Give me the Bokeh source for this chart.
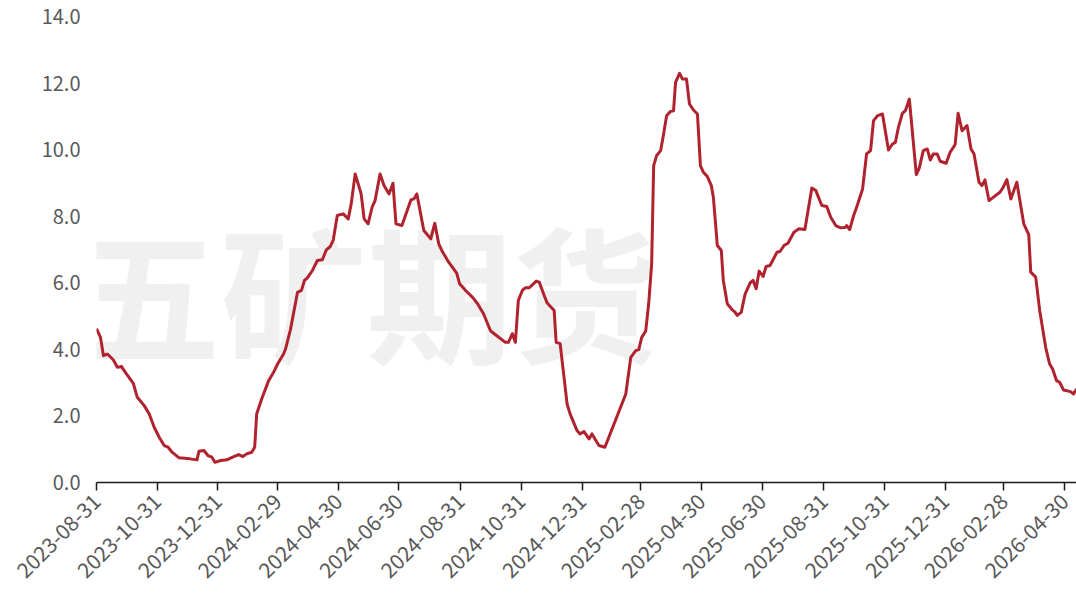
import math
import pandas as pd
from bokeh.plotting import figure
from bokeh.models import (ColumnDataSource, FixedTicker, DatetimeTickFormatter,
                          Range1d, Label, PrintfTickFormatter)
from bokeh.embed import file_html
from bokeh.resources import INLINE

# ---------------- data ----------------
dates = [
    "2023-08-31", "2023-09-04", "2023-09-07", "2023-09-11", "2023-09-17", "2023-09-21",
    "2023-09-25", "2023-09-29", "2023-10-07", "2023-10-11", "2023-10-18", "2023-10-23",
    "2023-10-28", "2023-11-02", "2023-11-07", "2023-11-11", "2023-11-15", "2023-11-22",
    "2023-12-03", "2023-12-10", "2023-12-12", "2023-12-17", "2023-12-21", "2023-12-25",
    "2023-12-28", "2024-01-03", "2024-01-09", "2024-01-16", "2024-01-21", "2024-01-25",
    "2024-01-29", "2024-02-03", "2024-02-06", "2024-02-08", "2024-02-13", "2024-02-20",
    "2024-02-25", "2024-02-29", "2024-03-06", "2024-03-08", "2024-03-13", "2024-03-20",
    "2024-03-24", "2024-03-27", "2024-03-30", "2024-04-04", "2024-04-09", "2024-04-14",
    "2024-04-18", "2024-04-22", "2024-04-25", "2024-04-29", "2024-05-05", "2024-05-10",
    "2024-05-13", "2024-05-17", "2024-05-23", "2024-05-26", "2024-05-30", "2024-06-03",
    "2024-06-06", "2024-06-11", "2024-06-15", "2024-06-20", "2024-06-24", "2024-06-27",
    "2024-07-03", "2024-07-12", "2024-07-15", "2024-07-18", "2024-07-25", "2024-08-01",
    "2024-08-05", "2024-08-09", "2024-08-12", "2024-08-19", "2024-08-27", "2024-08-30",
    "2024-09-05", "2024-09-12", "2024-09-17", "2024-09-23", "2024-09-30", "2024-10-05",
    "2024-10-15", "2024-10-18", "2024-10-22", "2024-10-25", "2024-10-28", "2024-11-01",
    "2024-11-04", "2024-11-08", "2024-11-15", "2024-11-18", "2024-11-23", "2024-11-26",
    "2024-12-03", "2024-12-05", "2024-12-09", "2024-12-16", "2024-12-19", "2024-12-26",
    "2024-12-29", "2025-01-02", "2025-01-07", "2025-01-10", "2025-01-17", "2025-01-23",
    "2025-02-13", "2025-02-18", "2025-02-23", "2025-02-26", "2025-03-01", "2025-03-05",
    "2025-03-08", "2025-03-11", "2025-03-13", "2025-03-16", "2025-03-20", "2025-03-23",
    "2025-03-26", "2025-03-30", "2025-04-02", "2025-04-04", "2025-04-08", "2025-04-11",
    "2025-04-15", "2025-04-18", "2025-04-22", "2025-04-26", "2025-04-29", "2025-05-02",
    "2025-05-06", "2025-05-10", "2025-05-12", "2025-05-16", "2025-05-20", "2025-05-22",
    "2025-05-26", "2025-05-31", "2025-06-03", "2025-06-05", "2025-06-09", "2025-06-13",
    "2025-06-18", "2025-06-21", "2025-06-24", "2025-06-27", "2025-07-01", "2025-07-04",
    "2025-07-08", "2025-07-15", "2025-07-18", "2025-07-22", "2025-07-26", "2025-08-01",
    "2025-08-06", "2025-08-12", "2025-08-19", "2025-08-23", "2025-08-29", "2025-09-03",
    "2025-09-07", "2025-09-12", "2025-09-17", "2025-09-22", "2025-09-23", "2025-09-26",
    "2025-09-30", "2025-10-03", "2025-10-09", "2025-10-13", "2025-10-17", "2025-10-20",
    "2025-10-24", "2025-10-29", "2025-11-04", "2025-11-08", "2025-11-11", "2025-11-14",
    "2025-11-18", "2025-11-21", "2025-11-25", "2025-12-02", "2025-12-05", "2025-12-09",
    "2025-12-13", "2025-12-16", "2025-12-19", "2025-12-23", "2025-12-26", "2026-01-01",
    "2026-01-05", "2026-01-10", "2026-01-13", "2026-01-17", "2026-01-22", "2026-01-26",
    "2026-01-29", "2026-02-03", "2026-02-06", "2026-02-09", "2026-02-13", "2026-02-24",
    "2026-02-27", "2026-03-03", "2026-03-07", "2026-03-13", "2026-03-20", "2026-03-25",
    "2026-03-27", "2026-04-01", "2026-04-05", "2026-04-11", "2026-04-15", "2026-04-18",
    "2026-04-22", "2026-04-25", "2026-04-29", "2026-05-06", "2026-05-09", "2026-05-12",
]

values = [
    4.62, 4.36, 3.81, 3.86, 3.68, 3.46,
    3.49, 3.31, 2.98, 2.56, 2.31, 2.06,
    1.66, 1.36, 1.11, 1.06, 0.91, 0.74,
    0.71, 0.68, 0.94, 0.96, 0.81, 0.76,
    0.61, 0.66, 0.68, 0.78, 0.84, 0.78,
    0.86, 0.91, 1.06, 2.06, 2.51, 3.06,
    3.31, 3.56, 3.86, 4.01, 4.60, 5.71,
    5.77, 6.07, 6.15, 6.37, 6.67, 6.69,
    6.99, 7.09, 7.29, 8.02, 8.07, 7.92,
    8.37, 9.27, 8.67, 7.92, 7.77, 8.27,
    8.47, 9.27, 8.92, 8.67, 8.99, 7.77,
    7.72, 8.49, 8.52, 8.67, 7.57, 7.32,
    7.79, 7.17, 6.97, 6.62, 6.29, 5.97,
    5.77, 5.56, 5.37, 5.07, 4.56, 4.44,
    4.21, 4.21, 4.47, 4.21, 5.47, 5.77,
    5.85, 5.85, 6.05, 6.02, 5.62, 5.39,
    5.17, 4.21, 4.17, 2.36, 2.06, 1.56,
    1.46, 1.53, 1.31, 1.46, 1.11, 1.06,
    2.66, 3.76, 3.96, 3.99, 4.36, 4.55,
    5.37, 6.57, 9.52, 9.82, 9.97, 10.47,
    11.02, 11.15, 11.17, 12.02, 12.29, 12.12,
    12.12, 11.37, 11.19, 11.07, 9.52, 9.32,
    9.19, 8.92, 8.57, 7.12, 6.97, 6.07,
    5.37, 5.19, 5.11, 5.02, 5.11, 5.67,
    6.00, 6.07, 5.82, 6.35, 6.19, 6.49,
    6.52, 6.92, 6.94, 7.12, 7.19, 7.52,
    7.62, 7.60, 8.85, 8.77, 8.32, 8.29,
    7.97, 7.72, 7.65, 7.67, 7.72, 7.60,
    8.02, 8.27, 8.82, 9.87, 9.97, 10.87,
    11.02, 11.07, 9.99, 10.17, 10.22, 10.67,
    11.09, 11.17, 11.52, 9.25, 9.45, 9.97,
    10.02, 9.69, 9.87, 9.87, 9.65, 9.59,
    9.92, 10.15, 11.09, 10.57, 10.72, 10.02,
    9.87, 9.02, 8.92, 9.09, 8.47, 8.72,
    8.85, 9.10, 8.52, 9.02, 7.77, 7.45,
    6.32, 6.17, 5.17, 4.06, 3.56, 3.41,
    3.06, 3.01, 2.78, 2.73, 2.66, 2.81,
]

tick_labels = [
    "2023-08-31", "2023-10-31", "2023-12-31", "2024-02-29", "2024-04-30",
    "2024-06-30", "2024-08-31", "2024-10-31", "2024-12-31", "2025-02-28",
    "2025-04-30", "2025-06-30", "2025-08-31", "2025-10-31", "2025-12-31",
    "2026-02-28", "2026-04-30",
]
y_ticks = [0, 2, 4, 6, 8, 10, 12, 14]
watermark_text = "五矿期货"

# ---------------- figure ----------------
x_start = pd.Timestamp("2023-08-31")
x_end = pd.Timestamp("2026-05-12")

p = figure(width=1076, height=598, x_axis_type="datetime",
           output_backend="svg", toolbar_location=None,
           x_range=Range1d(x_start, x_end), y_range=Range1d(0, 14),
           min_border_left=96, min_border_right=0,
           min_border_top=16, min_border_bottom=116)

p.background_fill_color = "white"
p.border_fill_color = "white"
p.outline_line_color = None
p.xgrid.visible = False
p.ygrid.visible = False

src = ColumnDataSource(dict(date=pd.to_datetime(dates), value=values))
p.line("date", "value", source=src, line_color="#B0222D", line_width=3,
       line_join="round")

# watermark
wm = Label(x=270, y=194, x_units="screen", y_units="screen",
           text=watermark_text, text_align="center", text_baseline="middle",
           text_font="Noto Sans CJK SC", text_font_style="bold",
           text_font_size="146px", text_color="#F0F0F0", level="underlay")
p.add_layout(wm)

font = "Noto Sans CJK SC"
label_color = "#595959"

# x axis
xa = p.xaxis[0]
xa.ticker = FixedTicker(ticks=[pd.Timestamp(t).value / 1e6 for t in tick_labels])
xa.formatter = DatetimeTickFormatter(days="%Y-%m-%d", months="%Y-%m-%d",
                                     years="%Y-%m-%d", hours="%Y-%m-%d")
xa.major_label_orientation = math.pi / 4
xa.axis_line_color = "#1A1A1A"
xa.axis_line_width = 1.5
xa.major_tick_line_color = "#1A1A1A"
xa.major_tick_line_width = 1.5
xa.major_tick_out = 8
xa.major_tick_in = 0
xa.minor_tick_line_color = None
xa.major_label_text_font = font
xa.major_label_text_font_size = "21px"
xa.major_label_text_color = label_color
xa.major_label_standoff = 7

# y axis
ya = p.yaxis[0]
ya.ticker = FixedTicker(ticks=y_ticks)
ya.formatter = PrintfTickFormatter(format="%.1f")
ya.axis_line_color = None
ya.major_tick_line_color = None
ya.minor_tick_line_color = None
ya.major_tick_out = 0
ya.major_tick_in = 0
ya.major_label_standoff = 16
ya.major_label_text_font = font
ya.major_label_text_font_size = "20px"
ya.major_label_text_color = label_color

open("out.html", "w").write(file_html(p, INLINE))
